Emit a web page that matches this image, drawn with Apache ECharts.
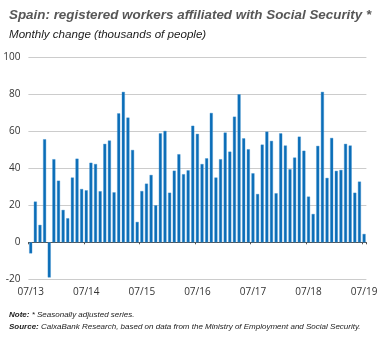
<!DOCTYPE html>
<html>
<head>
<meta charset="utf-8">
<script src="https://cdn.jsdelivr.net/npm/echarts@6/dist/echarts.min.js"></script>
<style>
  html, body { margin: 0; padding: 0; background: #fff; }
  #chart { width: 387px; height: 338px; }
</style>
</head>
<body>
<div id="chart"></div>
<script>
// Monthly change in Social Security affiliates, 07/2013 – 07/2019 (thousands)
const months = [];
for (let y = 13; y <= 19; y++) {
  for (let m = 1; m <= 12; m++) {
    if ((y === 13 && m < 7) || (y === 19 && m > 7)) continue;
    months.push(String(m).padStart(2, '0') + '/' + y);
  }
}

const monthlyChange = [
  -6, 22, 9.4, 55.7, -19, 44.9, 33.3, 17.5, 13, 35, 45.2, 28.8,
  28.1, 43, 42.3, 27.6, 53.2, 55, 27, 69.7, 81.3, 67.4, 49.9, 11,
  27.7, 31.7, 36.4, 20, 58.9, 60.2, 26.8, 38.7, 47.6, 36.8, 38.9, 63,
  58.6, 42.3, 45.4, 69.9, 35, 44.9, 59.3, 49, 67.9, 80, 56.2, 50.3,
  37.3, 26.1, 52.8, 59.8, 54.8, 26.5, 58.9, 52.3, 39.5, 45.8, 57.1, 49.5,
  24.7, 15.3, 52.1, 81.3, 34.8, 56.4, 38.6, 39.1, 53.2, 52.3, 26.8, 32.8,
  4.5
];

const yTicks = { min: -20, max: 100, step: 20 };

const font = '"Liberation Sans", Arial, sans-serif';
const chart = echarts.init(document.getElementById('chart'), null, { renderer: 'canvas' });

chart.setOption({
  backgroundColor: '#ffffff',
  animation: false,
  title: [
    {
      text: 'Spain: registered workers affiliated with Social Security *',
      left: 4, top: 4,
      textStyle: { fontFamily: font, fontSize: 13.4, fontWeight: 'bold', fontStyle: 'italic', color: '#575757' }
    },
    {
      text: 'Monthly change (thousands of people)',
      left: 4, top: 24,
      textStyle: { fontFamily: font, fontSize: 11.6, fontWeight: 'normal', fontStyle: 'italic', color: '#1a1a1a' }
    },
    {
      text: '{b|Note:} * Seasonally adjusted series.\n{b|Source:} CaixaBank Research, based on data from the Ministry of Employment and Social Security.',
      left: 4, top: 304,
      textStyle: {
        fontFamily: font, fontSize: 8, fontStyle: 'italic', fontWeight: 'normal', color: '#1a1a1a', lineHeight: 12,
        rich: { b: { fontFamily: font, fontSize: 8, fontStyle: 'italic', fontWeight: 'bold', color: '#1a1a1a', lineHeight: 12 } }
      }
    }
  ],
  grid: { left: 28.4, right: 20.6, top: 57.3, height: 222, containLabel: false },
  xAxis: [
    {
      type: 'category',
      data: months,
      boundaryGap: true,
      axisLine: { onZero: true, lineStyle: { color: '#555', width: 1 } },
      axisTick: { show: true, interval: 11, length: 2, lineStyle: { color: '#555' } },
      axisLabel: { show: false }
    },
    {
      type: 'category',
      data: months,
      position: 'bottom',
      boundaryGap: true,
      axisLine: { show: false, onZero: false },
      axisTick: { show: false },
      axisLabel: {
        interval: 11, margin: 8,
        fontFamily: '"Open Sans", sans-serif', fontSize: 10, color: '#333'
      }
    }
  ],
  yAxis: {
    type: 'value',
    min: yTicks.min, max: yTicks.max, interval: yTicks.step,
    axisLine: { show: false },
    axisTick: { show: false },
    axisLabel: { margin: 8, fontFamily: '"Open Sans", sans-serif', fontSize: 10, color: '#333' },
    splitLine: { lineStyle: { color: '#cccccc', width: 1 } }
  },
  series: [
    {
      type: 'bar',
      xAxisIndex: 0,
      data: monthlyChange,
      barWidth: 3,
      itemStyle: { color: '#0b6db7', borderColor: '#3c8fcf', borderWidth: 0.4 }
    }
  ]
});
</script>
</body>
</html>
